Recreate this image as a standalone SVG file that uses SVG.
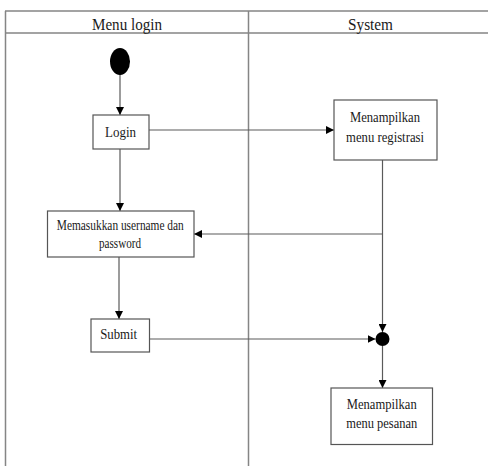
<svg xmlns="http://www.w3.org/2000/svg" width="488" height="466" viewBox="0 0 488 466">
  <style>
    .lane { stroke: #858585; stroke-width: 1.5; fill: none; }
    .box { fill: #ffffff; stroke: #555555; stroke-width: 1.2; }
    .edge { stroke: #5a5a5a; stroke-width: 1.2; fill: none; }
    .lbl { font-family: "Liberation Serif", "Times New Roman", serif; fill: #1a1a1a; text-anchor: middle; }
    .hdr { font-size: 16.5px; }
    .txt { font-size: 15px; }
  </style>
  <defs>
    <marker id="arrow" viewBox="0 0 8 8" refX="8" refY="4" markerWidth="8" markerHeight="8" markerUnits="userSpaceOnUse" orient="auto">
      <path d="M0,0 L8,4 L0,8 z" fill="#000000"/>
    </marker>
  </defs>

  <!-- swimlane frame -->
  <g id="lanes">
    <line class="lane" x1="5" y1="11" x2="488" y2="11"/>
    <line class="lane" x1="5" y1="33" x2="488" y2="33"/>
    <line class="lane" x1="5.5" y1="11" x2="5.5" y2="466"/>
    <line class="lane" x1="248.5" y1="11" x2="248.5" y2="466"/>
    <text class="lbl hdr" x="127" y="29.5" textLength="70" lengthAdjust="spacingAndGlyphs">Menu login</text>
    <text class="lbl hdr" x="370.5" y="29.5" textLength="45" lengthAdjust="spacingAndGlyphs">System</text>
  </g>

  <!-- connectors -->
  <g id="connectors">
    <line class="edge" x1="120" y1="74" x2="120" y2="115" marker-end="url(#arrow)"/>
    <line class="edge" x1="120" y1="149" x2="120" y2="211" marker-end="url(#arrow)"/>
    <line class="edge" x1="149" y1="130" x2="334" y2="130" marker-end="url(#arrow)"/>
    <line class="edge" x1="382.5" y1="160" x2="382.5" y2="332" marker-end="url(#arrow)"/>
    <line class="edge" x1="382.5" y1="234" x2="194" y2="234" marker-end="url(#arrow)"/>
    <line class="edge" x1="119" y1="257" x2="119" y2="319" marker-end="url(#arrow)"/>
    <line class="edge" x1="147" y1="339" x2="375.5" y2="339" marker-end="url(#arrow)"/>
    <line class="edge" x1="382.5" y1="346" x2="382.5" y2="388" marker-end="url(#arrow)"/>
  </g>

  <g id="start">
    <ellipse cx="120" cy="61.5" rx="10" ry="13.5" fill="#000000"/>
  </g>

  <g id="login">
    <rect class="box" x="93" y="115" width="56" height="34"/>
    <text class="lbl txt" x="120.5" y="136.5" textLength="31" lengthAdjust="spacingAndGlyphs">Login</text>
  </g>

  <g id="input-credentials">
    <rect class="box" x="47.5" y="211" width="146.5" height="46"/>
    <text class="lbl txt" x="120.3" y="230" textLength="127" lengthAdjust="spacingAndGlyphs">Memasukkan username dan</text>
    <text class="lbl txt" x="120" y="247.5" textLength="42" lengthAdjust="spacingAndGlyphs">password</text>
  </g>

  <g id="submit">
    <rect class="box" x="91" y="319" width="58.5" height="33"/>
    <text class="lbl txt" x="118.7" y="339.3" textLength="37" lengthAdjust="spacingAndGlyphs">Submit</text>
  </g>

  <g id="show-registration">
    <rect class="box" x="334" y="100" width="103" height="60"/>
    <text class="lbl txt" x="385" y="122.3" textLength="70" lengthAdjust="spacingAndGlyphs">Menampilkan</text>
    <text class="lbl txt" x="385" y="141.7" textLength="78" lengthAdjust="spacingAndGlyphs">menu registrasi</text>
  </g>

  <g id="join">
    <circle cx="382.5" cy="339" r="7" fill="#000000"/>
  </g>

  <g id="show-orders">
    <rect class="box" x="331" y="388" width="101.5" height="56.5"/>
    <text class="lbl txt" x="381.7" y="409" textLength="70" lengthAdjust="spacingAndGlyphs">Menampilkan</text>
    <text class="lbl txt" x="381.7" y="428.3" textLength="71" lengthAdjust="spacingAndGlyphs">menu pesanan</text>
  </g>
</svg>
